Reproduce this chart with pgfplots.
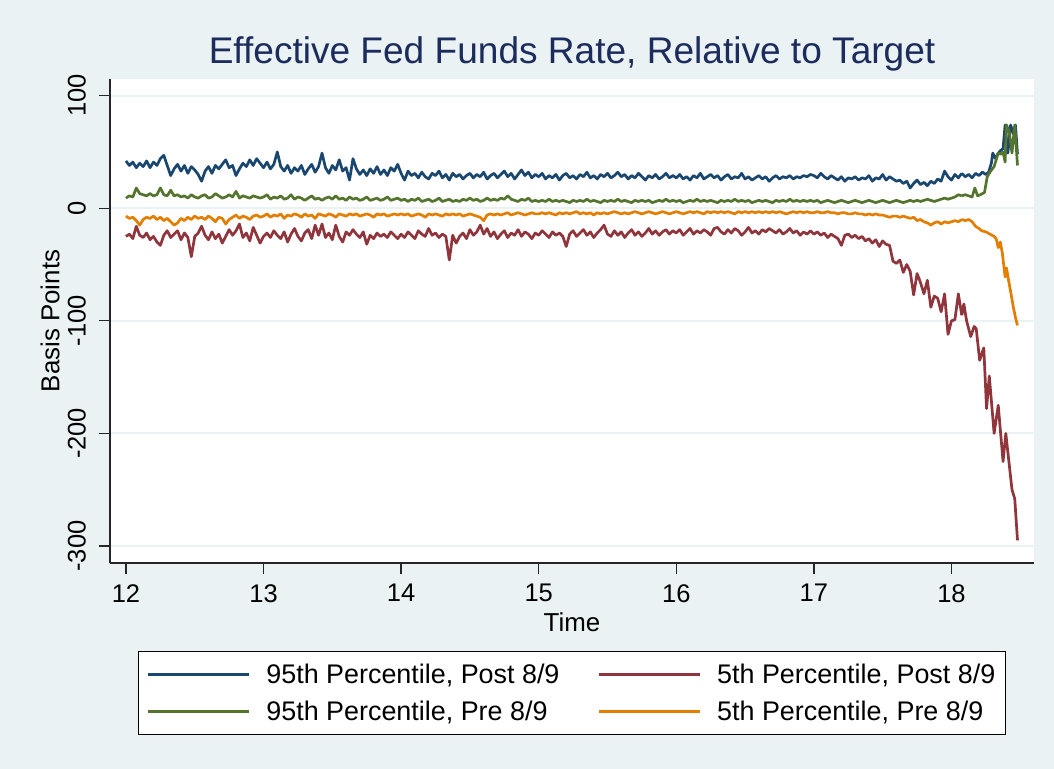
\documentclass[border=0pt]{standalone}
\usepackage{pgfplots}
\pgfplotsset{compat=1.18}
\usepackage{pgfplotstable}
\usepackage{fontspec}
\setmainfont{Liberation Sans}

\definecolor{bgcol}{RGB}{234,242,243}
\definecolor{gridcol}{RGB}{234,242,243}
\definecolor{titlecol}{RGB}{28,44,92}
\definecolor{snavy}{RGB}{26,71,111}
\definecolor{smaroon}{RGB}{144,53,59}
\definecolor{sgreen}{RGB}{85,117,47}
\definecolor{sorange}{RGB}{227,126,0}

% 95th percentile, post 8/9 (x = 12 + 0.025*index)
\pgfplotstableread[row sep=\\]{
y\\
42\\38\\41\\36\\40\\37\\42\\36\\41\\38\\44\\47\\38\\29\\35\\39\\33\\38\\31\\37\\34\\30\\24\\33\\37\\31\\38\\35\\39\\43\\36\\38\\29\\35\\40\\37\\43\\38\\44\\40\\
36\\41\\35\\39\\50\\37\\33\\38\\31\\36\\33\\38\\30\\35\\39\\32\\37\\49\\36\\31\\38\\34\\43\\33\\36\\25\\44\\35\\30\\34\\29\\35\\31\\37\\30\\34\\29\\36\\33\\39\\
31\\25\\33\\29\\31\\27\\32\\28\\26\\31\\29\\33\\27\\30\\25\\31\\28\\30\\26\\29\\31\\27\\30\\28\\32\\26\\29\\31\\27\\30\\33\\28\\31\\26\\30\\34\\29\\32\\27\\30\\
28\\31\\26\\29\\27\\30\\25\\29\\31\\27\\29\\26\\30\\28\\32\\27\\29\\26\\30\\28\\31\\27\\29\\32\\28\\30\\26\\29\\27\\31\\28\\25\\29\\27\\30\\26\\28\\31\\27\\29\\
27\\30\\26\\28\\25\\29\\27\\31\\26\\28\\30\\27\\29\\25\\28\\30\\26\\28\\27\\31\\26\\28\\25\\27\\29\\26\\28\\24\\27\\29\\26\\28\\27\\29\\26\\28\\27\\29\\28\\30\\
29\\27\\31\\28\\26\\29\\27\\25\\28\\24\\27\\26\\28\\25\\27\\26\\29\\24\\27\\26\\30\\25\\28\\26\\24\\25\\22\\24\\18\\22\\25\\21\\23\\20\\24\\22\\26\\24\\33\\28\\
25\\30\\27\\31\\
}\bluetab

% 5th percentile, post 8/9
\pgfplotstableread[row sep=\\]{
y\\
-25\\-23\\-27\\-16\\-24\\-26\\-22\\-28\\-25\\-30\\-33\\-24\\-20\\-26\\-23\\-20\\-28\\-22\\-26\\-43\\-25\\-22\\-16\\-24\\-28\\-21\\-27\\-23\\-31\\-25\\-19\\-24\\-20\\-14\\-26\\-22\\-29\\-17\\-24\\-31\\
-25\\-22\\-26\\-20\\-24\\-27\\-21\\-30\\-23\\-18\\-25\\-29\\-22\\-19\\-27\\-15\\-24\\-14\\-26\\-22\\-28\\-15\\-25\\-30\\-21\\-24\\-19\\-23\\-26\\-21\\-32\\-24\\-27\\-22\\-25\\-23\\-26\\-21\\-24\\-27\\
-23\\-26\\-21\\-24\\-27\\-20\\-23\\-25\\-18\\-24\\-22\\-26\\-23\\-25\\-46\\-24\\-31\\-25\\-22\\-27\\-19\\-24\\-21\\-15\\-23\\-18\\-25\\-21\\-27\\-23\\-20\\-26\\-22\\-24\\-19\\-25\\-21\\-23\\-27\\-22\\
-24\\-20\\-23\\-26\\-21\\-24\\-22\\-25\\-34\\-23\\-20\\-25\\-22\\-19\\-24\\-21\\-26\\-22\\-19\\-15\\-23\\-25\\-20\\-24\\-21\\-26\\-22\\-19\\-24\\-21\\-25\\-22\\-18\\-23\\-20\\-24\\-21\\-19\\-23\\-20\\
-22\\-19\\-24\\-21\\-18\\-23\\-20\\-22\\-19\\-21\\-24\\-18\\-17\\-21\\-23\\-19\\-22\\-18\\-20\\-24\\-21\\-17\\-22\\-20\\-23\\-19\\-21\\-18\\-20\\-22\\-19\\-23\\-21\\-18\\-22\\-20\\-24\\-21\\-23\\-20\\
-23\\-21\\-24\\-22\\-26\\-23\\-25\\-27\\-33\\-24\\-23\\-26\\-24\\-27\\-25\\-29\\-27\\-31\\-28\\-34\\-29\\-32\\-33\\-47\\-49\\-46\\-57\\-50\\-56\\-77\\-58\\-66\\-76\\-64\\-88\\-78\\-80\\-92\\-76\\-112\\
-100\\-99\\-76\\-95\\
}\redtab

% 95th percentile, pre 8/9
\pgfplotstableread[row sep=\\]{
y\\
9\\11\\10\\18\\13\\12\\11\\13\\11\\12\\18\\12\\11\\16\\11\\12\\10\\11\\9\\12\\10\\9\\11\\12\\9\\10\\13\\11\\9\\10\\12\\10\\15\\9\\11\\10\\9\\11\\10\\9\\
10\\12\\8\\10\\9\\11\\8\\9\\12\\8\\10\\9\\7\\9\\11\\8\\9\\7\\9\\10\\8\\11\\8\\9\\7\\10\\8\\9\\7\\8\\10\\7\\8\\9\\7\\8\\10\\7\\8\\9\\
7\\8\\6\\8\\7\\9\\6\\7\\8\\6\\7\\9\\6\\7\\8\\6\\7\\6\\8\\7\\9\\7\\8\\6\\7\\9\\7\\8\\7\\9\\8\\11\\8\\7\\6\\8\\7\\9\\6\\7\\
6\\7\\6\\8\\6\\7\\6\\7\\6\\5\\7\\6\\7\\6\\8\\6\\7\\6\\5\\7\\6\\7\\6\\8\\6\\7\\6\\5\\7\\6\\7\\6\\7\\5\\6\\7\\6\\8\\6\\7\\
6\\7\\5\\6\\7\\6\\8\\6\\7\\6\\7\\6\\5\\7\\6\\7\\6\\8\\6\\7\\6\\7\\5\\6\\7\\6\\7\\6\\5\\7\\6\\7\\6\\8\\6\\7\\6\\7\\6\\7\\
6\\7\\5\\6\\7\\6\\5\\6\\7\\6\\5\\6\\7\\6\\5\\6\\7\\6\\5\\6\\7\\6\\5\\6\\7\\6\\5\\6\\7\\6\\7\\6\\7\\8\\7\\6\\7\\8\\9\\8\\
9\\10\\12\\11\\
}\greentab

% 5th percentile, pre 8/9
\pgfplotstableread[row sep=\\]{
y\\
-7\\-9\\-8\\-11\\-15\\-10\\-8\\-9\\-7\\-10\\-8\\-11\\-9\\-12\\-15\\-13\\-9\\-11\\-8\\-10\\-7\\-9\\-8\\-10\\-7\\-9\\-12\\-8\\-9\\-14\\-10\\-8\\-6\\-9\\-7\\-8\\-10\\-7\\-6\\-8\\
-7\\-5\\-8\\-6\\-7\\-5\\-9\\-6\\-7\\-5\\-6\\-8\\-5\\-7\\-6\\-9\\-5\\-6\\-7\\-5\\-6\\-8\\-5\\-6\\-7\\-5\\-6\\-5\\-7\\-6\\-5\\-6\\-8\\-5\\-6\\-5\\-7\\-6\\-5\\-6\\
-5\\-6\\-5\\-7\\-6\\-5\\-6\\-8\\-5\\-6\\-5\\-6\\-7\\-5\\-6\\-5\\-6\\-5\\-7\\-6\\-5\\-6\\-7\\-8\\-11\\-6\\-5\\-6\\-5\\-6\\-5\\-4\\-6\\-5\\-4\\-5\\-6\\-5\\-4\\-5\\
-5\\-4\\-5\\-4\\-5\\-6\\-4\\-5\\-4\\-5\\-4\\-3\\-5\\-4\\-5\\-4\\-6\\-4\\-5\\-4\\-5\\-4\\-3\\-4\\-5\\-4\\-5\\-4\\-3\\-4\\-5\\-4\\-3\\-4\\-5\\-4\\-3\\-4\\-5\\-4\\
-3\\-4\\-5\\-4\\-3\\-4\\-3\\-4\\-5\\-3\\-4\\-3\\-4\\-3\\-4\\-3\\-4\\-5\\-3\\-4\\-3\\-4\\-3\\-4\\-3\\-4\\-3\\-4\\-3\\-4\\-3\\-4\\-5\\-4\\-3\\-4\\-3\\-4\\-3\\-4\\
-4\\-3\\-4\\-4\\-3\\-4\\-4\\-5\\-4\\-4\\-5\\-5\\-4\\-5\\-5\\-6\\-5\\-6\\-5\\-6\\-6\\-7\\-8\\-7\\-7\\-8\\-7\\-8\\-9\\-8\\-11\\-10\\-12\\-13\\-15\\-13\\-12\\-14\\-12\\-13\\
-12\\-11\\-12\\-10\\
}\orangetab

\begin{document}
\begin{tikzpicture}
\fill[bgcol] (0,0) rectangle (1054bp,769bp);
\path[use as bounding box] (0,0) rectangle (1054bp,769bp);
\begin{axis}[
  at={(110bp,206bp)}, anchor=south west,
  scale only axis, width=924bp, height=484bp,
  xmin=11.884, xmax=18.60, ymin=-315.1, ymax=114.8,
  axis background/.style={fill=white},
  axis x line*=bottom, axis y line*=left,
  axis line style={line width=1.3bp, black!85},
  xtick={12,13,14,15,16,17,18},
  ytick={-300,-200,-100,0,100},
  tick align=outside,
  major tick length=11bp,
  tick style={line width=1.3bp, black!85},
  minor tick num=0,
  ymajorgrids,
  grid style={line width=2bp, gridcol},
  /pgf/number format/assume math mode=true,
  ticklabel style={font=\fontsize{25.6}{30}\selectfont, text=black},
  xticklabel style={anchor=north, inner sep=0pt},
  yticklabel style={rotate=90, anchor=south, inner sep=0pt},
  xticklabel shift=10bp,
  yticklabel shift=13bp,
  xlabel={Time},
  ylabel={Basis Points},
  xlabel style={at={(axis description cs:0.5,-0.1219)}, anchor=center, inner sep=0pt, font=\fontsize{26}{30}\selectfont},
  ylabel style={at={(axis description cs:-0.0649,0.5)}, anchor=center, rotate=0, inner sep=0pt, font=\fontsize{26}{30}\selectfont},
  title={Effective Fed Funds Rate, Relative to Target},
  title style={at={(axis description cs:0.5,1)}, anchor=base, yshift=10bp, inner sep=0pt, font=\fontsize{37.2}{42}\selectfont, text=titlecol},
  legend columns=2,
  legend cell align=left,
  legend image code/.code={\draw[#1] (0bp,0bp) -- (101bp,0bp); \path (115bp,0bp);},
  legend style={at={(axis description cs:0.5,-0.1812)}, anchor=north,
    draw=black, line width=1.2bp, fill=white,
    font=\fontsize{27}{32}\selectfont,
    inner xsep=8bp, inner ysep=10.5bp, row sep=12.5bp,
    /tikz/every even column/.append style={column sep=36bp}},
  every axis plot/.append style={line width=2.7bp, line join=round},
]
\addplot[snavy] table[x expr=12+0.025*\coordindex, y=y] {\bluetab};
\addlegendentry{95th Percentile, Post 8/9}
\addplot[snavy, forget plot] coordinates {(18.075,31)(18.1,28)(18.125,30)(18.15,27)(18.175,31)(18.2,29)(18.225,32)(18.25,30)(18.27,32)(18.29,40)(18.30,49)(18.32,44)(18.335,48)(18.355,51)(18.375,53)(18.39,74)(18.41,49)(18.43,74)(18.45,66)(18.465,74)(18.48,48)};

\addplot[smaroon] table[x expr=12+0.025*\coordindex, y=y] {\redtab};
\addlegendentry{5th Percentile, Post 8/9}
\addplot[smaroon, forget plot] coordinates {(18.075,-95)(18.09,-85)(18.11,-100)(18.14,-114)(18.165,-105)(18.18,-107)(18.205,-135)(18.235,-124)(18.255,-178)(18.275,-149)(18.31,-200)(18.34,-175)(18.375,-225)(18.395,-200)(18.44,-250)(18.46,-258)(18.48,-295)};

\addplot[sgreen] table[x expr=12+0.025*\coordindex, y=y] {\greentab};
\addlegendentry{95th Percentile, Pre 8/9}
\addplot[sgreen, forget plot] coordinates {(18.075,11)(18.1,12)(18.125,11)(18.15,10)(18.17,18)(18.19,11)(18.21,12)(18.24,14)(18.26,28)(18.285,33)(18.31,37)(18.34,49)(18.36,48)(18.375,50)(18.39,41)(18.4,74)(18.42,68)(18.44,49)(18.46,74)(18.48,38)};

\addplot[sorange] table[x expr=12+0.025*\coordindex, y=y] {\orangetab};
\addlegendentry{5th Percentile, Pre 8/9}
\addplot[sorange, forget plot] coordinates {(18.075,-10)(18.1,-11)(18.125,-10)(18.15,-12)(18.175,-16)(18.2,-18)(18.22,-20)(18.25,-21)(18.28,-23)(18.31,-25)(18.325,-27)(18.34,-35)(18.355,-30)(18.37,-40)(18.39,-61)(18.4,-53)(18.415,-64)(18.43,-74)(18.45,-88)(18.465,-97)(18.48,-104)};
\end{axis}
\end{tikzpicture}
\end{document}
